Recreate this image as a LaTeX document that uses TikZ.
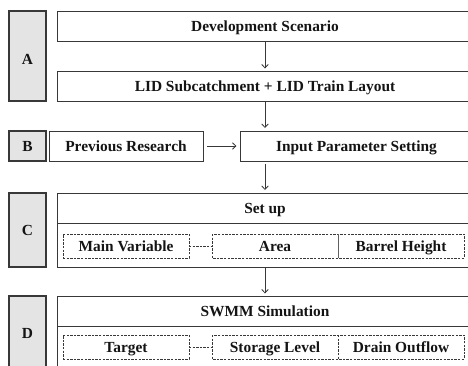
\documentclass[tikz,border=0pt]{standalone}
\usepackage{fontspec}
\setmainfont{Liberation Serif}
\usetikzlibrary{arrows.meta,calc}
\definecolor{frame}{HTML}{383838}
\definecolor{labfill}{HTML}{E4E4E4}
\begin{document}
\begin{tikzpicture}[x=1pt,y=1pt,
  txt/.style={font=\fontsize{15.4}{18}\selectfont\bfseries, text=black!92, text height=13pt, text depth=3pt},
  labbox/.style={draw=frame, line width=1.1pt, fill=labfill, inner sep=0pt, outer sep=0pt, txt},
  mainbox/.style={draw=frame, line width=0.9pt, inner sep=0pt, outer sep=0pt, txt},
  plain/.style={inner sep=0pt, outer sep=0pt, txt},
  dashbox/.style={draw=frame, line width=0.8pt, dash pattern=on 2.4pt off 1.2pt, inner sep=0pt, outer sep=0pt, txt},
  dashline/.style={draw=frame, line width=0.8pt, dash pattern=on 2.4pt off 1.2pt},
  flow/.style={draw=frame, line width=0.8pt, -{Straight Barb[length=3.5pt,width=6.5pt]}}
]
\useasboundingbox (0,0) rectangle (468,-365);
\clip (0,0) rectangle (468,-365);

% --- A ---
\node[labbox, minimum width=37pt, minimum height=90pt] (labA) at (27.5,-56) {};
\node[plain] (labAt) at (27.5,-59) {A};
\node[mainbox, minimum width=416pt, minimum height=30pt] (dev) at (265,-26) {Development Scenario};
\node[mainbox, minimum width=416pt, minimum height=30pt] (lid) at (265,-86) {LID Subcatchment + LID Train Layout};

% --- B ---
\node[labbox, minimum width=37pt, minimum height=30pt] (labB) at (27.5,-146) {B};
\node[mainbox, minimum width=154pt, minimum height=30pt] (prev) at (126,-146) {Previous Research};
\node[mainbox, minimum width=233pt, minimum height=30pt] (inp) at (356.5,-146) {Input Parameter Setting};

% --- C ---
\node[labbox, minimum width=37pt, minimum height=74pt] (labC) at (27.5,-230) {C};
\node[mainbox, minimum width=416pt, minimum height=74pt] (setup) at (265,-230) {};
\node[plain] (setupt) at (265,-208) {Set up};
\draw[frame, line width=0.9pt] ([yshift=-30pt]setup.north west) -- ([yshift=-30pt]setup.north east);
\node[dashbox, minimum width=126pt, minimum height=24pt] (mv) at (126,-246) {Main Variable};
\node[plain, minimum width=126pt, minimum height=24pt] (area) at (275,-246) {Area};
\node[plain, minimum width=126pt, minimum height=24pt] (barrel) at (401,-246) {Barrel Height};
\draw[dashline] (area.north west) rectangle (barrel.south east);
\draw[frame!80, line width=1pt] (area.north east) -- (area.south east);
\draw[dashline] (mv.east) -- (area.west);

% --- D ---
\node[labbox, minimum width=37pt, minimum height=84pt] (labD) at (27.5,-338) {};
\node[plain] (labDt) at (27.5,-333) {D};
\node[mainbox, minimum width=416pt, minimum height=84pt] (swmm) at (265,-338) {};
\node[plain] (swmmt) at (265,-311) {SWMM Simulation};
\draw[frame, line width=0.9pt] ([yshift=-30pt]swmm.north west) -- ([yshift=-30pt]swmm.north east);
\node[dashbox, minimum width=126pt, minimum height=24pt] (tgt) at (126,-347) {Target};
\node[plain, minimum width=126pt, minimum height=24pt] (stor) at (275,-347) {Storage Level};
\node[plain, minimum width=126pt, minimum height=24pt] (drain) at (401,-347) {Drain Outflow};
\draw[dashline] (stor.north west) rectangle (drain.south east);
\draw[dashline] (stor.north east) -- (stor.south east);
\draw[dashline] (tgt.east) -- (stor.west);

% --- connectors ---
\draw[flow, shorten >=2.5pt] (dev.south) -- (lid.north);
\draw[flow, shorten >=3pt] (lid.south) -- (lid.south |- inp.north);
\draw[flow, shorten <=4pt, shorten >=3.5pt] (prev.east) -- (inp.west);
\draw[flow, shorten <=3pt, shorten >=3pt] (setup.north |- inp.south) -- (setup.north);
\draw[flow, shorten >=2.5pt] (setup.south) -- (swmm.north);
\end{tikzpicture}
\end{document}
